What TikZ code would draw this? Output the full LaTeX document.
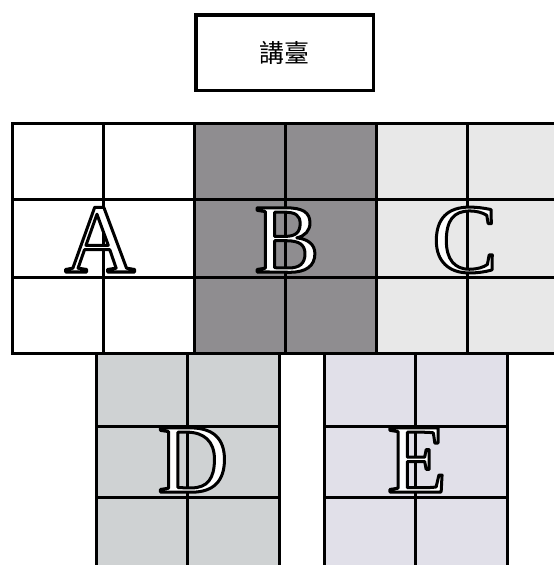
\documentclass[tikz,border=0pt]{standalone}
\usepackage{fontspec}
\newfontfamily\letterfont{Liberation Serif}
\newfontfamily\cjkfont{Noto Sans CJK TC}
\definecolor{seatB}{HTML}{8F8D90}
\definecolor{seatC}{HTML}{E8E8E8}
\definecolor{seatD}{HTML}{CFD2D3}
\definecolor{seatE}{HTML}{E1E0E9}
% hollow letter: white fill, black outline
\newcommand{\hollow}[1]{\special{pdf:literal q 2 Tr 3 w 1 j 0 0 0 RG 1 1 1 rg}#1\special{pdf:literal Q}}

\begin{document}
\begin{tikzpicture}[x=1pt,y=-1pt,grid/.style={black, line width=3pt, line cap=rect},podium/.style={draw, line width=3.5pt, minimum width=177.5pt, minimum height=75.5pt, font=\cjkfont\fontsize{25}{25}\selectfont},letter/.style={anchor=base, inner sep=0pt, font=\letterfont\fontsize{98}{98}\selectfont}]
\useasboundingbox (0,0) rectangle (554,565);
\node[podium] (podium) at (284.5,52.5) {講臺};
% seat blocks, front row
\foreach \x/\col in {12/white, 194/seatB, 376/seatC} {\fill[\col] (\x,123) rectangle (\x+182,353);}
% seat blocks, back row
\foreach \x/\col in {96/seatD, 324/seatE} {\fill[\col] (\x,354) rectangle (\x+183,570);}
\foreach \y in {123,199,277,353} {\draw[grid] (12,\y) -- (560,\y);}
\foreach \x in {12,103,194,285,376,467,558} {\draw[grid] (\x,123) -- (\x,353);}
\foreach \y in {426,497} {\draw[grid] (96,\y) -- (279,\y); \draw[grid] (324,\y) -- (507,\y);}
\foreach \x in {96,187,279,324,415,507} {\draw[grid] (\x,353) -- (\x,575);}
\node[letter] (A) at (100,272) {\hollow{A}};
\node[letter] (B) at (287,272) {\hollow{B}};
\node[letter] (C) at (465,272) {\hollow{C}};
\node[letter] (D) at (193,492) {\hollow{D}};
\node[letter] (E) at (417,492) {\hollow{E}};
\end{tikzpicture}
\end{document}
